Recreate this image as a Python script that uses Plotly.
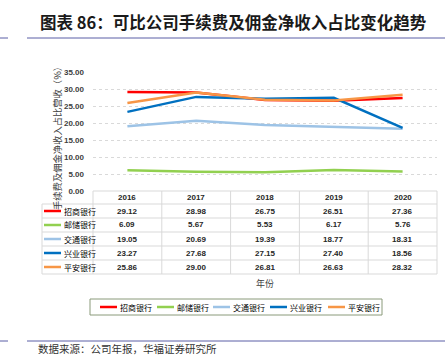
import plotly.graph_objects as go

years = ["2016", "2017", "2018", "2019", "2020"]
banks = ["招商银行", "邮储银行", "交通银行", "兴业银行", "平安银行"]
cmb = [29.12, 28.98, 26.75, 26.51, 27.36]
psbc = [6.09, 5.67, 5.53, 6.17, 5.76]
bocom = [19.05, 20.69, 19.39, 18.77, 18.31]
cib = [23.27, 27.68, 27.15, 27.40, 18.56]
pab = [25.86, 29.00, 26.81, 26.63, 28.32]
series = [cmb, psbc, bocom, cib, pab]
colors = ["#FF0000", "#92D050", "#9DC3E6", "#0070C0", "#F79646"]

W, H = 448, 356
L, R, T, B = 93, 437, 72, 191  # plot area in pixels


def px(x):
    return (x - L) / (R - L)


def py(y):
    return (B - y) / (B - T)


CJK = "Noto Sans CJK SC"
NUM = "Liberation Sans"

fig = go.Figure()
for name, vals, c in zip(banks, series, colors):
    fig.add_trace(go.Scatter(x=years, y=vals, mode="lines", name=name,
                             line=dict(color=c, width=2.5), showlegend=False))

shapes = []
ann = []
grid_c = "#D9D9D9"

# table lines
row_y = [191, 204, 218, 232, 246, 260, 274]
col_w = (R - L) / len(years)
shapes.append(dict(type="line", xref="paper", yref="paper", x0=px(L), x1=px(R),
                   y0=py(191), y1=py(191), line=dict(color=grid_c, width=1)))
for yy in row_y[1:]:
    shapes.append(dict(type="line", xref="paper", yref="paper", x0=px(42), x1=px(R),
                       y0=py(yy), y1=py(yy), line=dict(color=grid_c, width=1)))
shapes.append(dict(type="line", xref="paper", yref="paper", x0=px(42), x1=px(42),
                   y0=py(204), y1=py(274), line=dict(color=grid_c, width=1)))
for k in range(len(years) + 1):
    xx = L + k * col_w
    shapes.append(dict(type="line", xref="paper", yref="paper", x0=px(xx), x1=px(xx),
                       y0=py(191), y1=py(274), line=dict(color=grid_c, width=1)))

# header
for j, yr in enumerate(years):
    ann.append(dict(x=j, xref="x", y=py(197.5), yref="paper", text=f"<b>{yr}</b>", showarrow=False,
                    font=dict(family=NUM, size=8, color="#262626"), xanchor="center", yanchor="middle"))
# rows
for i, (name, vals, c) in enumerate(zip(banks, series, colors)):
    cy = (row_y[i + 1] + row_y[i + 2]) / 2
    shapes.append(dict(type="line", xref="paper", yref="paper", x0=px(44), x1=px(61),
                       y0=py(cy), y1=py(cy), line=dict(color=c, width=2.5)))
    ann.append(dict(x=px(62), xref="paper", y=py(cy), yref="paper", text=name, showarrow=False,
                    font=dict(family=CJK, size=8, color="#000000"), xanchor="left", yanchor="middle"))
    for j, v in enumerate(vals):
        ann.append(dict(x=j, xref="x", y=py(cy), yref="paper", text=f"<b>{v:.2f}</b>", showarrow=False,
                        font=dict(family=NUM, size=8, color="#262626"), xanchor="center", yanchor="middle"))

# axis titles
ann.append(dict(x=px(57), xref="paper", y=py(136), yref="paper", text="手续费及佣金净收入占比营收（%）",
                textangle=-90, showarrow=False, font=dict(family=CJK, size=9.3, color="#404040"),
                xanchor="center", yanchor="middle"))
ann.append(dict(x=px(265), xref="paper", y=py(283), yref="paper", text="年份", showarrow=False,
                font=dict(family=CJK, size=9, color="#404040"), xanchor="center", yanchor="middle"))

# legend box
shapes.append(dict(type="rect", xref="paper", yref="paper", x0=px(90), x1=px(382),
                   y0=py(299), y1=py(315), line=dict(color="#8A9A7A", width=1), fillcolor="white"))
leg_x = [100, 157, 213, 270, 328]
for lx, name, c in zip(leg_x, banks, colors):
    shapes.append(dict(type="line", xref="paper", yref="paper", x0=px(lx), x1=px(lx + 17),
                       y0=py(307), y1=py(307), line=dict(color=c, width=2.5)))
    ann.append(dict(x=px(lx + 18), xref="paper", y=py(307), yref="paper", text=name, showarrow=False,
                    font=dict(family=CJK, size=8, color="#000000"), xanchor="left", yanchor="middle"))

# title and rules
ann.append(dict(x=px(233), xref="paper", y=py(22), yref="paper",
                text="<b>图表 86：可比公司手续费及佣金净收入占比变化趋势</b>", showarrow=False,
                font=dict(family=CJK, size=16.5, color="#1a1a1a"), xanchor="center", yanchor="middle"))
for yy in (38, 341):
    shapes.append(dict(type="line", xref="paper", yref="paper", x0=px(0), x1=px(8),
                       y0=py(yy), y1=py(yy), line=dict(color="#5B5EA6", width=1)))
    shapes.append(dict(type="line", xref="paper", yref="paper", x0=px(27), x1=px(445),
                       y0=py(yy), y1=py(yy), line=dict(color="#5B5EA6", width=1)))
ann.append(dict(x=px(36), xref="paper", y=py(349), yref="paper",
                text="数据来源：公司年报，华福证券研究所", showarrow=False,
                font=dict(family=CJK, size=10.5, color="#333333"), xanchor="left", yanchor="middle"))

fig.update_layout(
    width=W, height=H, margin=dict(l=L, r=W - R, t=T, b=H - B),
    paper_bgcolor="white", plot_bgcolor="white",
    shapes=shapes, annotations=ann,
    xaxis=dict(type="category", range=[-0.5, 4.5], showticklabels=False, showgrid=False,
               zeroline=False, showline=False, fixedrange=True),
    yaxis=dict(range=[0, 35], dtick=5, tickformat=".2f", showgrid=True, gridcolor=grid_c,
               griddash="dot", zeroline=False, showline=False, ticks="",
               tickfont=dict(family=NUM, size=8, color="#404040", weight="bold"), ticklabelstandoff=8),
)
fig.write_html("out.html", config={"displayModeBar": False},
               post_script="document.body.style.margin='0';document.body.style.overflow='hidden';")
